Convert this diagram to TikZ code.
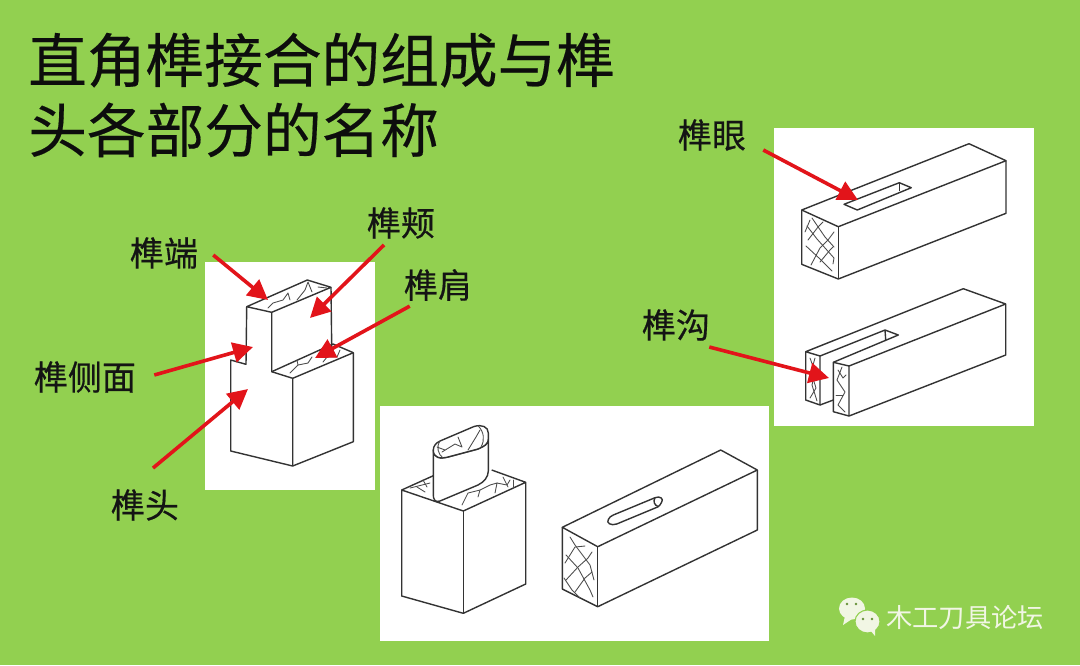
\documentclass[tikz,border=0pt]{standalone}
\usepackage{fontspec}
\usetikzlibrary{arrows.meta}
\newfontfamily\cjkfont{Noto Sans CJK SC}
\newfontfamily\partfont[FakeBold=0.5]{Noto Sans CJK SC}
\newfontfamily\headfont[FakeBold=0.3]{Noto Sans CJK SC}
\definecolor{boardgreen}{HTML}{92D050}
\definecolor{arrowred}{HTML}{E2141A}
\definecolor{markpale}{HTML}{F1F6E4}
\tikzset{
  ink/.style={color=black!80,line width=1.05pt,line join=round},
  solid face/.style={ink,fill=white},
  grain/.style={color=black!70,line width=0.65pt,line join=round,line cap=round},
  partlabel/.style={inner sep=0.75pt,font=\partfont\fontsize{25.5}{30}\selectfont,text=black!92},
  redarrow/.style={color=arrowred,line width=2.7pt,-{Triangle[length=15pt,width=15pt]}},
}
\begin{document}
\begin{tikzpicture}[x=0.75pt,y=0.75pt,yscale=-1,xscale=1]
        %Shape: Board
        \fill [boardgreen] (0,0) rectangle (1080,665) ;
        \useasboundingbox (0,0) rectangle (1080,665);
        %Shape: Panels
        \fill [white] (205,262) rectangle (375,490) ;
        \fill [white] (774,128) rectangle (1034,426) ;
        \fill [white] (380,406) rectangle (769,641) ;

        % Title
        \node (title) at (28,95) [anchor=west,align=left,inner sep=0pt,font=\headfont\fontsize{44}{52.5}\selectfont,text=black!95] {直角榫接合的组成与榫\\头各部分的名称};

        %Shape: Stepped tenon
        \draw [ink] (246.7,306.7) -- (307.3,280) -- (331,287.3) -- (271.7,312.3) -- cycle ;
        \draw [ink] (246.7,306.7) -- (246,364.3) -- (230.7,360) -- (230.7,451) -- (292.7,466) -- (353.3,441.7) -- (353.3,352.7) -- (333,344) ;
        \draw [ink] (271.7,312.3) -- (271.7,371.7) -- (292.7,378.3) -- (292.7,466) ;
        \draw [ink] (331,287.3) -- (331.7,347) ;
        \draw [ink] (271.7,371.7) -- (333,344) ;
        \draw [ink] (292.7,378.3) -- (353.3,352.7) ;
        %Curve Lines: end grain
        \draw [grain] (268,308) -- (273,303) -- (283,300) -- (288,293) -- (290,300) ;
        \draw [grain] (297,300) -- (305,290) -- (308,282) -- (312,292) ;
        \draw [grain] (318,287) -- (327,288) ;
        \draw [grain] (290,373) -- (298,365) -- (308,363) -- (312,357) ;
        \draw [grain] (298,365) -- (297,360) ;
        \draw [grain] (323,362) -- (327,357) -- (337,357) -- (340,350) ;
        \draw [grain] (335,355) -- (333,350) ;

        %Shape: Beam with mortise
        \draw [ink] (801.7,210) -- (838.3,226.7) -- (1006,160.7) -- (969,143.7) -- cycle ;
        \draw [ink] (801.7,210) -- (801.7,264.3) -- (838.3,279) -- (1006,213.3) -- (1006,160.7) ;
        \draw [ink] (838.3,226.7) -- (838.3,279) ;
        \draw [ink] (844,204.3) -- (857.3,210) -- (911.3,187.7) -- (899.3,182.7) -- cycle ;
        \draw [ink] (899.3,182.7) -- (899.3,191) ;
        \draw [grain] (812,218) -- (825,237) -- (834,247) ;
        \draw [grain] (807,226) -- (817,239) -- (834,258) -- (833,264) ;
        \draw [grain] (806,246) -- (820,259) -- (832,271) ;
        \draw [grain] (810,220) -- (805,232) ;
        \draw [grain] (808,240) -- (818,227) -- (823,222) ;
        \draw [grain] (811,265) -- (820,248) -- (828,240) -- (834,232) ;
        \draw [grain] (820,262) -- (830,250) -- (833,247) ;

        %Shape: Beam with open slot
        \draw [ink] (805.7,351.7) -- (963.3,288.7) -- (1005.7,304) -- (1005.7,355) -- (849,416) -- (833.3,411.7) -- (833.3,362.3) -- (898.3,335) -- (885,330) -- (820,356) -- cycle ;
        \draw [ink] (805.7,351.7) -- (805.7,400) -- (820,405) -- (820,356) ;
        \draw [ink] (820,405) -- (833.3,400) ;
        \draw [ink] (833.3,362.3) -- (849,366) -- (849,416) ;
        \draw [ink] (849,366) -- (1005.7,304) ;
        \draw [ink] (885,330) -- (885.7,340) ;
        \draw [grain] (810,358) -- (815,372) -- (812,385) -- (817,401) ;
        \draw [grain] (815,358) -- (811,372) -- (816,388) -- (810,398) ;
        \draw [grain] (842,367) -- (837,380) -- (845,392) -- (838,405) -- (845,412) ;
        \draw [grain] (838,370) -- (843,378) -- (846,375) ;
        \draw [grain] (836,395) -- (843,395) ;

        %Shape: Block with round tenon
        \draw [ink] (401.7,490) -- (433.3,475.7) ;
        \draw [ink] (491.7,470) -- (525.7,482.3) -- (463.3,511) -- (401.7,490) -- (401.7,596) -- (463.3,613.3) -- (525.7,584) -- (525.7,482.3) ;
        \draw [ink] (463.3,511) -- (463.3,613.3) ;
        \draw [grain] (410,488) -- (422,485) -- (430,483) ;
        \draw [grain] (423,480) -- (427,487) ;
        \draw [grain] (417,487) -- (425,492) ;
        \draw [grain] (462,505) -- (468,493) -- (480,490) -- (490,485) -- (497,483) -- (495,493) ;
        \draw [grain] (480,490) -- (478,497) ;
        \draw [grain] (497,483) -- (507,485) -- (510,480) ;
        \draw [grain] (503,477) -- (508,487) ;
        \draw [grain] (513,480) -- (513,487) ;
        %Curve Lines: tenon sides and oval end
        \draw [solid face] (433.3,450) -- (433.3,495) .. controls (433.3,499) and (435,503) .. (440,501) -- (478,485) .. controls (484,482) and (488.3,477) .. (488.3,471) -- (488.3,438) .. controls (488.3,445) and (484,446) .. (478,449) -- (448,457) .. controls (440,459) and (433.3,458) .. (433.3,450) -- cycle ;
        \draw [solid face] (433.3,450) .. controls (433.3,446) and (436,443) .. (440,441) -- (474,426.5) .. controls (482,424) and (488.3,427) .. (488.3,433) -- (488.3,438) .. controls (488.3,445) and (484,446) .. (478,449) -- (448,457) .. controls (440,459) and (433.3,458) .. (433.3,450) -- cycle ;
        \draw [grain] (440,441) .. controls (436,447) and (438,454) .. (443,458) ;
        \draw [grain] (478.3,426) .. controls (484,432) and (485,440) .. (481,447) ;
        \draw [grain] (442,452) -- (455,444) -- (462,447) -- (458,437) ;
        \draw [grain] (468,450) -- (476,437) -- (480,430) ;
        \draw [grain] (437,447) -- (445,450) ;

        %Shape: Beam with round-ended slot
        \draw [ink] (562.3,527.3) -- (597.7,546.7) -- (757.3,470) -- (720.7,450) -- cycle ;
        \draw [ink] (562.3,527.3) -- (562.3,589) -- (597.7,606.7) -- (757.3,530) -- (757.3,470) ;
        \draw [ink] (597.7,546.7) -- (597.7,606.7) ;
        \draw [ink] (613.3,515) -- (655,497.7) .. controls (660,495.5) and (664,499) .. (661.7,502) .. controls (660.5,504) and (660,505.5) .. (658.3,506.7) -- (616.7,524) .. controls (611,526) and (606,523) .. (608.3,519.5) .. controls (609,517.5) and (611,516) .. (613.3,515) -- cycle ;
        \draw [ink] (655,497.7) .. controls (653,501) and (654,505) .. (658.3,506.7) ;
        \draw [grain] (570,537) -- (575,545) -- (590,565) -- (594,580) ;
        \draw [grain] (566,555) -- (578,568) -- (590,590) -- (593,597) ;
        \draw [grain] (564,578) -- (572,590) -- (580,598) ;
        \draw [grain] (565,563) -- (575,547) -- (585,546) ;
        \draw [grain] (566,580) -- (578,567) -- (588,558) -- (592,552) ;
        \draw [grain] (575,592) -- (585,578) -- (592,572) ;

        % Text Node
        \node (duan) at (164,253) [partlabel] {榫端};
        % Text Node
        \node (jia) at (401,223) [partlabel] {榫颊};
        % Text Node
        \node (jian) at (438,285) [partlabel] {榫肩};
        % Text Node
        \node (cemian) at (85,377) [partlabel] {榫侧面};
        % Text Node
        \node (tou) at (145,505) [partlabel] {榫头};
        % Text Node
        \node (yan) at (712,135) [partlabel] {榫眼};
        % Text Node
        \node (gou) at (676,325) [partlabel] {榫沟};

        %Straight Lines: pointers
        \coordinate (duantip) at (268,300);
        \coordinate (jiatip) at (310,318);
        \coordinate (jiantip) at (315,358);
        \coordinate (cemiantip) at (253,347);
        \coordinate (toutip) at (248,389);
        \coordinate (yantip) at (858,200);
        \coordinate (goutip) at (829,378);
        \draw [redarrow] ([shift={(14,2)}]duan.east) -- (duantip) ;
        \draw [redarrow] ([shift={(-17,5)}]jia.south) -- (jiatip) ;
        \draw [redarrow] ([shift={(7,4)}]jian.south west) -- (jiantip) ;
        \draw [redarrow] ([shift={(17,-2)}]cemian.east) -- (cemiantip) ;
        \draw [redarrow] ([shift={(8,-20)}]tou.north) -- (toutip) ;
        \draw [redarrow] ([shift={(16,-2)}]yan.south east) -- (yantip) ;
        \draw [redarrow] ([shift={(-2,5)}]gou.south east) -- (goutip) ;

        %Shape: Chat bubbles
        \fill [markpale] (852,608.5) ellipse [x radius=13,y radius=11] ;
        \fill [markpale] (845,616) -- (843,625) -- (852,619) -- cycle ;
        \draw [markpale,fill=markpale,draw=boardgreen,line width=0.8pt] (867.5,621.5) ellipse [x radius=12.5,y radius=11.5] ;
        \fill [markpale] (870,630) -- (875,636) -- (875,628) -- cycle ;
        \fill [boardgreen!70!black] (847,604) circle [radius=1.4] (856,604) circle [radius=1.4] (863,619) circle [radius=1.3] (872,619) circle [radius=1.3] ;
        % Text Node
        \node (mark) at (965,618) [inner sep=0.75pt,font=\cjkfont\fontsize{19.7}{24}\selectfont,text=markpale] {木工刀具论坛};
\end{tikzpicture}
\end{document}
